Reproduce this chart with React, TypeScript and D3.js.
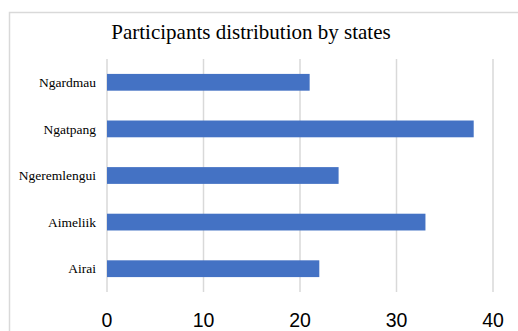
import React from "react";
import * as d3 from "d3";

const categories = ["Ngardmau", "Ngatpang", "Ngeremlengui", "Aimeliik", "Airai"];
const values = [21, 38, 24, 33, 22];
const xTicks = [0, 10, 20, 30, 40];
const title = "Participants distribution by states";

export default function App() {
  const W = 518, H = 331;
  const x = d3.scaleLinear().domain([0, 40]).range([107, 493]);
  const y = d3.scaleBand().domain(categories).range([59, 292]).paddingInner(0.64).paddingOuter(0.32);
  return (
    <svg width={W} height={H} style={{ position: "absolute", left: 0, top: 0, background: "#fff" }}>
      <rect x={9.5} y={12.5} width={W + 20} height={H + 20} fill="#fff" stroke="#d9d9d9" strokeWidth={1.5} />
      <text x={251} y={39} textAnchor="middle" fontFamily="'Liberation Serif', 'Times New Roman', serif" fontSize={21} fill="#000">{title}</text>
      {xTicks.map((t) => (
        <line key={t} x1={x(t)} x2={x(t)} y1={59} y2={292} stroke="#d9d9d9" strokeWidth={1.5} />
      ))}
      {categories.map((c, i) => (
        <rect key={c} x={x(0)} y={y(c)!} width={x(values[i]) - x(0)} height={y.bandwidth()} fill="#4472C4" />
      ))}
      {categories.map((c) => (
        <text key={c} x={96} y={y(c)! + y.bandwidth() / 2} dy="0.35em" textAnchor="end" fontFamily="'Liberation Serif', 'Times New Roman', serif" fontSize={13.5} fill="#000">{c}</text>
      ))}
      {xTicks.map((t) => (
        <text key={t} x={x(t)} y={327} textAnchor="middle" fontFamily="'Liberation Sans', Arial, sans-serif" fontSize={19.5} fill="#000">{t}</text>
      ))}
    </svg>
  );
}
